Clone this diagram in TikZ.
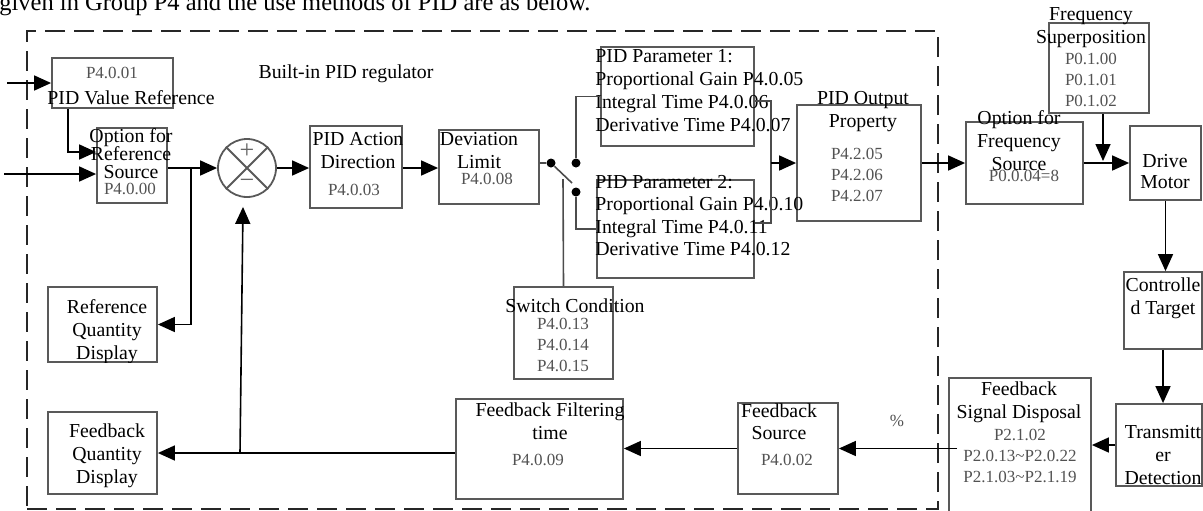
\documentclass[tikz,border=0pt]{standalone}
\usepackage{fontspec}
\setmainfont{Liberation Serif}
\usetikzlibrary{arrows.meta, fit, shapes.geometric}

\newcommand\mainfs{\fontsize{9.9}{11.5}\selectfont}
\newcommand\parfs{\fontsize{8.5}{10.5}\selectfont}
\newcommand\topfs{\fontsize{12.25}{14}\selectfont}

\begin{document}
\begin{tikzpicture}[
  x=0.5pt, y=-0.5pt,
  blk/.style={rectangle, draw=black!65, line width=0.9pt, inner sep=0pt},
  lbl/.style={inner sep=0pt, align=center, anchor=north, font=\mainfs},
  lbll/.style={lbl, align=left, anchor=north west},
  pval/.style={lbl, font=\parfs, text=black!68},
  dot/.style={circle, fill=black, inner sep=0pt, minimum size=4.5pt},
  wire/.style={draw=black!70, line width=0.8pt},
  arr/.style={-{Triangle[length=8.5pt, width=7.5pt]}, line width=0.8pt, draw=black},
  frame/.style={draw=black!85, line width=1.3pt, dash pattern=on 10pt off 4.5pt, inner sep=0pt}
]
\useasboundingbox (0,0) rectangle (1203,510);

\node[anchor=base west, inner sep=0pt, font=\topfs] (intro) at (-1,10)
  {given in Group P4 and the use methods of PID are as below.};

% regulator frame
\node[frame, fit={(27,31) (938,509)}] (pidreg) {};
\node[lbl] (title) at (346,62) {\strut Built-in PID regulator};

% blocks
\node[blk, fit={(52,58) (173,108)}] (refval) {};
\node[blk, fit={(97,128) (167,203)}] (refsrc) {};
\node[blk, fit={(48,287) (157,362)}] (refdisp) {};
\node[blk, fit={(48,412) (157,494)}] (fbdisp) {};
\node[circle, draw=black!65, line width=0.9pt, minimum size=29pt, inner sep=0pt] (sum) at (247,168) {};
\node[blk, fit={(310,126) (402,208)}] (action) {};
\node[blk, fit={(439,130) (539,204)}] (devlim) {};
\node[blk, fit={(601,47) (754,146)}] (param1) {};
\node[blk, fit={(597,180) (754,278)}] (param2) {};
\node[blk, fit={(514,287) (613,379)}] (swcond) {};
\node[blk, fit={(797,105) (921,221)}] (pidout) {};
\node[blk, fit={(966,122) (1083,204)}] (freqsrc) {};
\node[blk, fit={(1049,23) (1149,113)}] (freqsup) {};
\node[blk, fit={(1130,126) (1201,200)}] (drive) {};
\node[blk, fit={(1124,272) (1202,349)}] (target) {};
\node[blk, fit={(1116,404) (1202,486)}] (transm) {};
\node[blk, fit={(949,378) (1091,530)}] (fbsig) {};
\node[blk, fit={(738,403) (838,494)}] (fbsrc) {};
\node[blk, fit={(456,399) (623,499)}] (fbfilt) {};

% summing point
\draw[draw=black!65, line width=0.9pt] (sum.north west) -- (sum.south east)
  (sum.north east) -- (sum.south west);
\node[inner sep=0pt, font=\fontsize{13}{13}\selectfont, text=black!60] (plus) at (247,151) {+};
\node[inner sep=0pt, font=\fontsize{13}{13}\selectfont, text=black!60] (minus) at (247,184) {−};

% texts
\node[pval] (refval-p) at (112,63) {\strut P4.0.01};
\node[lbl] (refval-t) at (131,88) {\strut PID Value Reference};
\node[lbl] (refsrc-t) at (131,126) {\strut Option for\\[-2.5pt]Reference\\[-2.5pt]Source};
\node[pval] (refsrc-p) at (130,179) {\strut P4.0.00};
\begin{scope}
  \clip (refdisp.south west) rectangle (refdisp.north east);
  \node[lbl] (refdisp-t) at (107,297) {\strut Reference\\Quantity\\Display};
\end{scope}
\node[lbl] (fbdisp-t) at (107,421) {\strut Feedback\\Quantity\\Display};
\node[lbl] (action-t) at (358,129) {\strut PID Action\\Direction};
\node[pval] (action-p) at (354,180) {\strut P4.0.03};
\node[lbl] (devlim-t) at (479,129) {\strut Deviation\\Limit};
\node[pval] (devlim-p) at (487,169) {\strut P4.0.08};
\node[lbll] (param1-t) at (595,46)
  {\strut PID Parameter 1:\\Proportional Gain P4.0.05\\Integral Time P4.0.06\\Derivative Time P4.0.07};
\node[lbll] (param2-t) at (595,172)
  {\strut PID Parameter 2:\\[-0.35pt]Proportional Gain P4.0.10\\[-0.35pt]Integral Time P4.0.11\\[-0.35pt]Derivative Time P4.0.12};
\node[lbl] (swcond-t) at (575,296) {\strut Switch Condition};
\node[pval] (swcond-p) at (563,314) {\strut P4.0.13\\P4.0.14\\P4.0.15};
\node[lbl] (pidout-t) at (863,88) {\strut PID Output\\Property};
\node[pval] (pidout-p) at (857,144) {\strut P4.2.05\\P4.2.06\\P4.2.07};
\node[lbl] (freqsrc-t) at (1019,108) {\strut Option for\\Frequency\\Source};
\node[pval] (freqsrc-p) at (1024,166) {\strut P0.0.04=8};
\node[lbl] (freqsup-t) at (1091,4) {\strut Frequency\\Superposition};
\node[pval] (freqsup-p) at (1091,49) {\strut P0.1.00\\P0.1.01\\P0.1.02};
\node[lbl] (drive-t) at (1165,151) {\strut Drive\\[-1pt]Motor};
\node[lbl] (target-t) at (1163,275) {\strut Controlle\\d Target};
\node[lbl] (transm-t) at (1163,422) {\strut Transmitt\\er\\Detection};
\node[lbl] (fbsig-t) at (1019,379) {\strut Feedback\\Signal Disposal};
\node[pval] (fbsig-p) at (1020,425)
  {\strut P2.1.02\\P2.0.13\textasciitilde P2.0.22\\P2.1.03\textasciitilde P2.1.19};
\node[lbl] (fbsrc-t) at (779,401) {\strut Feedback\\[-0.5pt]Source};
\node[pval] (fbsrc-p) at (787,450) {\strut P4.0.02};
\node[lbl] (fbfilt-t) at (550,400) {\strut Feedback Filtering\\time};
\node[pval] (fbfilt-p) at (538,450) {\strut P4.0.09};
\node[pval] (pct) at (897,411) {\strut\%};

% switch
\node[dot] (piv) at (551,163) {};
\node[dot] (c1) at (576,163) {};
\node[dot] (c2) at (576,192) {};
\coordinate (blade) at (572,183);
\coordinate (rod) at (563,179);

% connectors
\coordinate (in1) at (7,83);
\coordinate (in2) at (4,174);
\coordinate (rj) at (191,168);
\coordinate (fj) at (240,453);
\coordinate (pj) at (771,163);
\coordinate (sj) at (1103,161);

\draw[arr] (in1) -- (refval.west);
\draw[arr] ([xshift=8.5pt]refval.south west) |- ([yshift=6.75pt]refsrc.west);
\draw[arr] (in2) -- ([yshift=-4.25pt]refsrc.west);
\draw[arr] (refsrc.east |- sum.west) -- (sum.west);
\draw[arr] (rj) |- (refdisp.east);
\draw[arr] (sum.east) -- (action.west |- sum.east);
\draw[arr] (action.east |- sum.east) -- (devlim.west |- sum.east);
\draw[wire] (devlim.east |- piv) -- (piv) -- (blade);
\draw[wire] (rod) -- (swcond.north);
\draw[wire] (c1) |- (param1.west);
\draw[wire] (c2) |- (param2.west);
\draw[wire] ([yshift=-2.25pt]param1.east) -| (pj);
\draw[wire] ([yshift=3pt]param2.east) -| (pj);
\draw[arr] (pj) -- (pidout.west |- pj);
\draw[arr] (pidout.east) -- (freqsrc.west);
\draw[arr] (freqsrc.east) -- (drive.west);
\draw[arr] ([xshift=2pt]freqsup.south) -- (sj);
\draw[arr] (drive.south) -- (drive.south |- target.north);
\draw[arr] (target.south) -- (target.south |- transm.north);
\draw[arr] (transm.west) -- (fbsig.east |- transm.west);
\draw[arr] ([xshift=4.5pt]fbsig.west |- fbsrc.east) -- (fbsrc.east);
\draw[arr] (fbsrc.west) -- (fbfilt.east |- fbsrc.west);
\draw[arr] (fbfilt.west |- fbdisp.east) -- (fbdisp.east);
\draw[arr] (fj) -- ([xshift=-2pt, yshift=-4.5pt]sum.south);

\end{tikzpicture}
\end{document}
